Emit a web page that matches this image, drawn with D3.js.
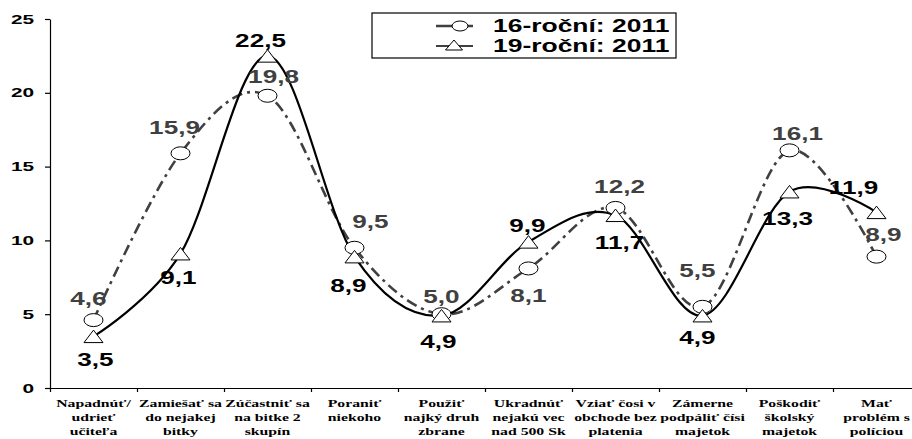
<!DOCTYPE html>
<html>
<head>
<meta charset="utf-8">
<script src="https://cdn.jsdelivr.net/npm/d3@7"></script>
<style>
  body { margin: 0; background: #fff; }
  svg { display: block; }
  .axis path, .axis line { stroke: #000; stroke-width: 1.2; }
</style>
</head>
<body>
<svg id="chart" width="912" height="439"></svg>
<script>
// categories (one array of lines per category)
var categories = [
  ["Napadnúť/", "udrieť", "učiteľa"],
  ["Zamiešať sa", "do nejakej", "bitky"],
  ["Zúčastniť sa", "na bitke 2", "skupín"],
  ["Poraniť", "niekoho"],
  ["Použiť", "najký druh", "zbrane"],
  ["Ukradnúť", "nejakú vec", "nad 500 Sk"],
  ["Vziať čosi v", "obchode bez", "platenia"],
  ["Zámerne", "podpáliť čísi", "majetok"],
  ["Poškodiť", "školský", "majetok"],
  ["Mať", "problém s", "políciou"]
];
var series16 = [4.6, 15.9, 19.8, 9.5, 5.0, 8.1, 12.2, 5.5, 16.1, 8.9];
var series19 = [3.5, 9.1, 22.5, 8.9, 4.9, 9.9, 11.7, 4.9, 13.3, 11.9];
var yTicks = [0, 5, 10, 15, 20, 25];
var legendNames = ["16-roční: 2011", "19-roční: 2011"];

// label placement offsets (px) relative to each marker
var off16 = [[-5,-22],[-6,-26],[6,-19],[16,-26],[0,-18],[0,27],[4,-21],[-5,-36],[8,-17],[7,-22]];
var off19 = [[2,23],[-2,24],[-7,-15],[-6,29],[-3,26],[-1,-16],[4,27],[-5,22],[-2,27],[-23,-25]];

var svg = d3.select("#chart");
var x0 = 50, step = 87, yTop = 19, yBot = 388;

var x = d3.scaleBand().domain(d3.range(categories.length)).range([x0, x0 + step * categories.length]).padding(0);
var cx = function(i) { return x(i) + x.bandwidth() / 2; };
var y = d3.scaleLinear().domain([0, 25]).range([yBot, yTop]);

var fmt = function(v) { return d3.format(".1f")(v).replace(".", ","); };

// stretched text helper (the original picture is widened horizontally)
function stext(g, tx, ty, str, size, sx, anchor, family, color) {
  return g.append("text")
    .attr("transform", "translate(" + tx + "," + ty + ") scale(" + sx + ",1)")
    .attr("text-anchor", anchor)
    .attr("dy", "0.36em")
    .attr("font-family", family)
    .attr("font-weight", "bold")
    .attr("font-size", size)
    .attr("fill", color)
    .text(str);
}
var sans = "'Liberation Sans', Arial, sans-serif";
var serif = "'Liberation Serif', 'Times New Roman', serif";

// y axis
svg.append("g")
  .attr("class", "axis")
  .attr("transform", "translate(" + x0 + ",0)")
  .call(d3.axisLeft(y).tickValues(yTicks).tickSize(5).tickSizeOuter(0).tickFormat(""));
yTicks.forEach(function(t) {
  stext(svg, 34, y(t), String(t), 13, 1.6, "end", sans, "#000");
});

// x axis (boundary ticks)
var xb = d3.scaleLinear().domain([0, categories.length]).range([x0, x0 + step * categories.length]);
svg.append("g")
  .attr("class", "axis")
  .attr("transform", "translate(0," + yBot + ")")
  .call(d3.axisBottom(xb).ticks(categories.length).tickSize(4).tickSizeOuter(0).tickFormat(""));

categories.forEach(function(lines, i) {
  lines.forEach(function(s, j) {
    stext(svg, cx(i), 403 + j * 14, s, 10.5, 1.5, "middle", serif, "#000");
  });
});

// lines
var line = d3.line()
  .x(function(d, i) { return cx(i); })
  .y(function(d) { return y(d); })
  .curve(d3.curveCatmullRom.alpha(0));

svg.append("path")
  .datum(series16)
  .attr("fill", "none")
  .attr("stroke", "#404040")
  .attr("stroke-width", 2.6)
  .attr("stroke-dasharray", "11,5,3,5")
  .attr("d", line);

svg.append("path")
  .datum(series19)
  .attr("fill", "none")
  .attr("stroke", "#000")
  .attr("stroke-width", 2.2)
  .attr("d", line);

// markers
function triPath(px, py, w, h) {
  return "M" + (px - w / 2) + "," + (py + h / 2) + "L" + (px + w / 2) + "," + (py + h / 2) + "L" + px + "," + (py - h / 2) + "Z";
}
svg.append("g").selectAll("ellipse")
  .data(series16).enter().append("ellipse")
  .attr("cx", function(d, i) { return cx(i); })
  .attr("cy", function(d) { return y(d); })
  .attr("rx", 9.5).attr("ry", 6.5)
  .attr("fill", "#fff").attr("stroke", "#000").attr("stroke-width", 1);

svg.append("g").selectAll("path")
  .data(series19).enter().append("path")
  .attr("d", function(d, i) { return triPath(cx(i), y(d), 19, 12.5); })
  .attr("fill", "#fff").attr("stroke", "#000").attr("stroke-width", 1);

// data labels
series16.forEach(function(v, i) {
  stext(svg, cx(i) + off16[i][0], y(v) + off16[i][1], fmt(v), 18, 1.45, "middle", sans, "#404040");
});
series19.forEach(function(v, i) {
  stext(svg, cx(i) + off19[i][0], y(v) + off19[i][1], fmt(v), 18, 1.45, "middle", sans, "#000");
});

// legend
var lg = svg.append("g");
lg.append("rect")
  .attr("x", 372).attr("y", 13).attr("width", 304).attr("height", 45)
  .attr("fill", "#fff").attr("stroke", "#000").attr("stroke-width", 1.2);
var rows = [26, 46];
lg.append("line").attr("x1", 436).attr("x2", 473).attr("y1", rows[0]).attr("y2", rows[0])
  .attr("stroke", "#404040").attr("stroke-width", 2.6);
lg.append("ellipse").attr("cx", 460).attr("cy", rows[0]).attr("rx", 8).attr("ry", 5)
  .attr("fill", "#fff").attr("stroke", "#000").attr("stroke-width", 1);
lg.append("line").attr("x1", 436).attr("x2", 473).attr("y1", rows[1]).attr("y2", rows[1])
  .attr("stroke", "#000").attr("stroke-width", 1.6);
lg.append("path").attr("d", triPath(454, rows[1] - 1, 17, 10))
  .attr("fill", "#fff").attr("stroke", "#000").attr("stroke-width", 1);
legendNames.forEach(function(s, i) {
  stext(lg, 493, rows[i], s, 18, 1.47, "start", sans, "#000");
});
</script>
</body>
</html>
